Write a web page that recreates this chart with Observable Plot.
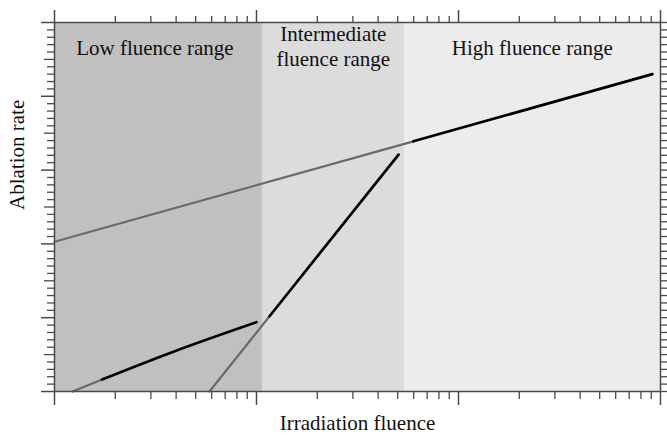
<!DOCTYPE html>
<html><head><meta charset="utf-8">
<script src="https://cdn.jsdelivr.net/npm/d3@7"></script>
<script src="https://cdn.jsdelivr.net/npm/@observablehq/plot@0.6"></script>
<style>body{margin:0;background:#fff}</style>
</head><body><div id="chart"></div>
<script>
// Fluence regions (x in arbitrary log units)
const regionNames = ["low", "intermediate", "high"];
const regionStart = [1, 10.7, 54];
const regionEnd = [10.7, 54, 1000];
const regionFill = ["#c0c0c0", "#dcdcdc", "#ececec"];
const regionLabels = ["Low fluence range", "Intermediate\nfluence range", "High fluence range"];
const regionLabelX = [3.14, 24.0, 232];
const regionLabelY = [4.67, 4.69, 4.67];

// Lines: gray = extrapolated part, black = fitted part
const highExtX = [1, 59.8];      const highExtY = [2.03, 3.39];
const highFitX = [59.8, 912];    const highFitY = [3.39, 4.30];
const midExtX = [5.85, 11.6];    const midExtY = [0, 1.02];
const midFitX = [11.6, 50.5];    const midFitY = [1.02, 3.21];
const lowExtX = [1.23, 1.72];    const lowExtY = [0, 0.163];
const lowFitX = [1.72, 3.88, 10]; const lowFitY = [0.163, 0.54, 0.939];

// Ticks
const xMajor = [1, 10, 100, 1000];
const xMinor = [2,3,4,5,6,7,8,9, 20,30,40,50,60,70,80,90, 200,300,400,500,600,700,800,900];
const yMajor = [0, 1, 2, 3, 4, 5];
const yMid = [0.5, 1.5, 2.5, 3.5, 4.5];
const yMinor = [0.1,0.2,0.3,0.4,0.6,0.7,0.8,0.9, 1.1,1.2,1.3,1.4,1.6,1.7,1.8,1.9,
  2.1,2.2,2.3,2.4,2.6,2.7,2.8,2.9, 3.1,3.2,3.3,3.4,3.6,3.7,3.8,3.9, 4.1,4.2,4.3,4.4,4.6,4.7,4.8,4.9];
const yAll = [...yMajor, ...yMid, ...yMinor];

const regions = regionNames.map((n, i) => ({name: n, x1: regionStart[i], x2: regionEnd[i]}));
const labels = regionLabels.map((t, i) => ({text: t, x: regionLabelX[i], y: regionLabelY[i]}));
const pts = (xs, ys, id) => xs.map((x, i) => ({x, y: ys[i], id}));
const extData = [...pts(highExtX, highExtY, "h"), ...pts(midExtX, midExtY, "m"), ...pts(lowExtX, lowExtY, "l")];
const fitData = [...pts(highFitX, highFitY, "h"), ...pts(midFitX, midFitY, "m"), ...pts(lowFitX, lowFitY, "l")];

const axisColor = "#4a4a4a";
const noLabel = () => "";

const chart = Plot.plot({
  width: 667, height: 435,
  marginLeft: 54, marginRight: 7, marginTop: 22, marginBottom: 44,
  style: {fontFamily: "Liberation Serif, Times New Roman, serif", background: "#fff"},
  x: {type: "log", domain: [1, 1000]},
  y: {type: "linear", domain: [0, 5]},
  color: {domain: regionNames, range: regionFill},
  marks: [
    Plot.rect(regions, {x1: "x1", x2: "x2", y1: 0, y2: 5, fill: "name"}),
    Plot.line(extData, {x: "x", y: "y", z: "id", stroke: "#6a6a6a", strokeWidth: 2.2}),
    Plot.line(fitData, {x: "x", y: "y", z: "id", stroke: "#000", strokeWidth: 2.7, curve: "monotone-x"}),
    Plot.text(labels, {x: "x", y: "y", text: "text", fontSize: 21, lineHeight: 1.2, fill: "#111", lineAnchor: "middle"}),
    Plot.frame({stroke: axisColor, strokeWidth: 1.5}),
    Plot.axisX(xMajor, {anchor: "bottom", tickSize: 14, tickFormat: noLabel, label: null, stroke: axisColor, strokeWidth: 1.5}),
    Plot.axisX(xMinor, {anchor: "bottom", tickSize: 8, tickFormat: noLabel, label: null, stroke: axisColor, strokeWidth: 1.3}),
    Plot.axisX(xMajor, {anchor: "top", tickSize: 13, tickFormat: noLabel, label: null, stroke: axisColor, strokeWidth: 1.5}),
    Plot.axisX(xMinor, {anchor: "top", tickSize: 7, tickFormat: noLabel, label: null, stroke: axisColor, strokeWidth: 1.3}),
    Plot.axisY(yMajor, {anchor: "left", tickSize: 13, tickFormat: noLabel, label: null, stroke: axisColor, strokeWidth: 1.5}),
    Plot.axisY(yMid, {anchor: "left", tickSize: 10, tickFormat: noLabel, label: null, stroke: axisColor, strokeWidth: 1.3}),
    Plot.axisY(yMinor, {anchor: "left", tickSize: 7, tickFormat: noLabel, label: null, stroke: axisColor, strokeWidth: 1.3}),
    Plot.axisY(yAll, {anchor: "right", tickSize: 6, tickFormat: noLabel, label: null, stroke: axisColor, strokeWidth: 1.3}),
    Plot.text(["Irradiation fluence"], {frameAnchor: "bottom", dy: 32, fontSize: 21, fill: "#111", lineAnchor: "middle"}),
    Plot.text(["Ablation rate"], {frameAnchor: "left", dx: -37, dy: 3, rotate: -90, fontSize: 21, fill: "#111", lineAnchor: "middle"})
  ]
});
document.getElementById("chart").appendChild(chart);
</script>
</body></html>
